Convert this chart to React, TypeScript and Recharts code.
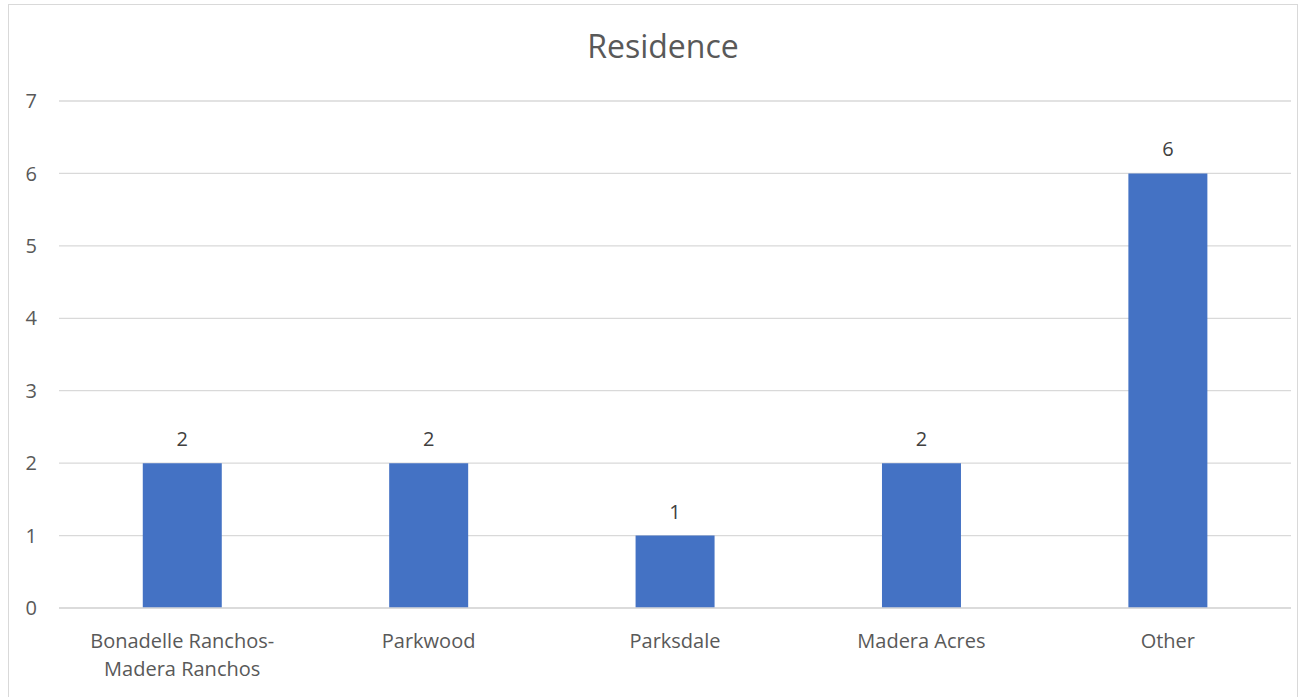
import React from 'react';
import { BarChart, Bar, XAxis, YAxis, CartesianGrid, LabelList } from 'recharts';

const categories = ['Bonadelle Ranchos-Madera Ranchos', 'Parkwood', 'Parksdale', 'Madera Acres', 'Other'];
const counts = [2, 2, 1, 2, 6];
const yTicks = [0, 1, 2, 3, 4, 5, 6, 7];

const data = categories.map((name, i) => ({ name, value: counts[i] }));

const FONT = '"Open Sans", sans-serif';

// splits "A-B" after the hyphen, like Excel wraps it
const CategoryTick = (props: any) => {
  const { x, y, payload } = props;
  const lines: string[] = String(payload.value).split(/(?<=-)/);
  return (
    <g transform={`translate(${x},${y})`}>
      {lines.map((line, i) => (
        <text
          key={i}
          x={0}
          y={32 + i * 28}
          textAnchor="middle"
          fill="#595959"
          fontSize={20}
          fontFamily={FONT}
        >
          {line}
        </text>
      ))}
    </g>
  );
};

export default function App() {
  return (
    <div
      style={{
        position: 'absolute',
        left: 8,
        top: 4,
        width: 1288,
        height: 700,
        border: '1px solid #d9d9d9',
        background: '#fff',
        fontFamily: FONT,
      }}
    >
      <div
        style={{
          position: 'absolute',
          left: 0,
          top: 19,
          width: 1308,
          textAlign: 'center',
          fontSize: 32,
          color: '#595959',
        }}
      >
        Residence
      </div>
      <BarChart
        width={1288}
        height={692}
        data={data}
        margin={{ top: 96, right: 6, bottom: 0, left: 0 }}
        barCategoryGap="34%"
      >
        <CartesianGrid vertical={false} stroke="#d9d9d9" strokeWidth={1.3} />
        <XAxis
          dataKey="name"
          axisLine={{ stroke: '#d9d9d9', strokeWidth: 1.3 }}
          tickLine={false}
          interval={0}
          height={89}
          tick={<CategoryTick />}
        />
        <YAxis
          width={50}
          domain={[0, 7]}
          ticks={yTicks}
          axisLine={false}
          tickLine={false}
          tickSize={0}
          tickMargin={22}
          tick={{ fill: '#595959', fontSize: 20, fontFamily: FONT }}
        />
        <Bar dataKey="value" fill="#4472c4" isAnimationActive={false}>
          <LabelList
            dataKey="value"
            position="top"
            offset={17}
            fill="#404040"
            fontSize={20}
            fontFamily={FONT}
          />
        </Bar>
      </BarChart>
    </div>
  );
}
